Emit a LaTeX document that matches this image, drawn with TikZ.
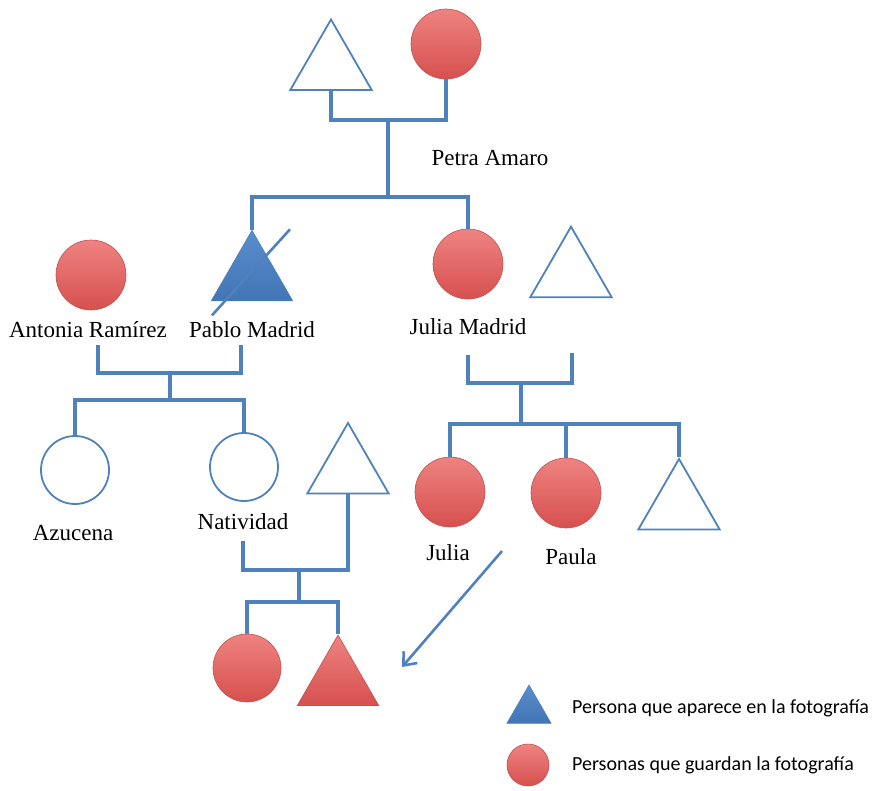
\documentclass[tikz,border=0pt]{standalone}
\usepackage{fontspec}
\setmainfont{Liberation Serif}
\newfontfamily\legendfont{Carlito}
\usetikzlibrary{shapes.geometric,arrows.meta}

\definecolor{lineblue}{HTML}{4F81BD}
\definecolor{redtop}{HTML}{EE8381}
\definecolor{redbot}{HTML}{D6504E}
\definecolor{rededge}{HTML}{C0504D}
\definecolor{bluetop}{HTML}{5A8DCC}
\definecolor{bluebot}{HTML}{4275B5}

\tikzset{
  link/.style={draw=lineblue, line width=3.6pt},
  tri/.style={regular polygon, regular polygon sides=3, inner sep=0pt, minimum size=94pt},
  opentri/.style={tri, draw=lineblue, line width=1.8pt, fill=white},
  bluetri/.style={tri, draw=lineblue, line width=0.6pt, top color=bluetop, bottom color=bluebot},
  redtri/.style={tri, draw=rededge, line width=0.6pt, top color=redtop, bottom color=redbot},
  redcirc/.style={circle, inner sep=0pt, minimum size=70pt, draw=rededge, line width=0.6pt, top color=redtop, bottom color=redbot},
  opencirc/.style={circle, inner sep=0pt, minimum size=68pt, draw=lineblue, line width=1.8pt, fill=white},
  plabel/.style={font=\fontsize{23}{27}\selectfont, inner sep=1pt},
  legtext/.style={font=\legendfont\fontsize{20}{24}\selectfont, anchor=west, inner sep=0pt},
  strike/.style={draw=lineblue, line width=2.6pt},
  pointer/.style={draw=lineblue, line width=2.6pt, -{Straight Barb[length=11pt, width=18pt, line width=2.6pt]}}
}

\begin{document}
\begin{tikzpicture}[x=1pt, y=-1pt]
\useasboundingbox (0,0) rectangle (880,790);

% ---- first generation ----
\node[opentri] (gf) at (331,66.5) {};
\node[redcirc] (gm) at (446,44) {};
\coordinate (u1) at (388,120);
\coordinate (u2) at (388,197);
\draw[link] (gf.side 2) |- (u1) -| (gm.south);
\draw[link] (u1) -- (u2);
\node[plabel] at (490,158) {Petra Amaro};

% ---- second generation ----
\node[redcirc] (antonia) at (91,275) {};
\node[bluetri] (pablo) at (252,277.3) {};
\node[redcirc] (juliam) at (468,264) {};
\node[opentri] (juliah) at (571,273.7) {};
\draw[link] (pablo.corner 1) |- (u2) -| (juliam.north);
\draw[strike] ([shift={(38,-48)}]pablo.center) -- ([shift={(-40,38)}]pablo.center);

\node[plabel] (antoniaL) at (88,330) {Antonia Ramírez};
\node[plabel] (pabloL) at (252,330) {Pablo Madrid};
\node[plabel] (juliamL) at (468,327) {Julia Madrid};

% Antonia + Pablo
\coordinate (a1) at (98,345);
\coordinate (a2) at (241,345);
\coordinate (u3) at (170,373);
\coordinate (u4) at (170,400);
\draw[link] (a1) |- (u3) -| (a2);
\draw[link] (u3) -- (u4);

% Julia Madrid + husband
\coordinate (b1) at (468,355);
\coordinate (b2) at (572,353);
\coordinate (u5) at (521,383);
\coordinate (u6) at (521,424);
\draw[link] (b1) |- (u5) -| (b2);
\draw[link] (u5) -- (u6);

% ---- third generation ----
\node[opencirc] (azucena) at (75,470) {};
\node[opencirc] (natividad) at (244,467) {};
\node[opentri] (natspouse) at (348,470) {};
\draw[link] (azucena.north) |- (u4) -| (natividad.north);

\node[redcirc] (julia) at (450,492) {};
\node[redcirc] (paula) at (566,493) {};
\node[opentri] (brother) at (679,506) {};
\draw[link] (julia.north) |- (u6) -| (brother.corner 1);
\draw[link] (paula.north) -- (paula.north |- u6);

\node[plabel] at (73,533) {Azucena};
\node[plabel] at (243,522) {Natividad};
\node[plabel] at (448,553) {Julia};
\node[plabel] at (571,557) {Paula};

% Natividad + husband
\coordinate (n1) at (243,541);
\coordinate (u7) at (299,570);
\coordinate (u8) at (299,602);
\draw[link] (n1) |- (u7) -| (natspouse.side 2);
\draw[link] (u7) -- (u8);

% ---- fourth generation ----
\node[redcirc, minimum size=68pt] (gd) at (247,668) {};
\node[redtri] (gs) at (338,682) {};
\draw[link] (gd.north) |- (u8) -| (gs.corner 1);

% photograph passed on
\coordinate (arrS) at (502,551);
\coordinate (arrE) at (402,667);
\draw[pointer] (arrS) -- (arrE);

% ---- legend ----
\node[bluetri, minimum size=51pt] (legT) at (529,710.5) {};
\node[redcirc, minimum size=42pt] (legC) at (528,765) {};
\node[legtext] at (572,708) {Persona que aparece en la fotografía};
\node[legtext] at (572,765) {Personas que guardan la fotografía};
\end{tikzpicture}
\end{document}
